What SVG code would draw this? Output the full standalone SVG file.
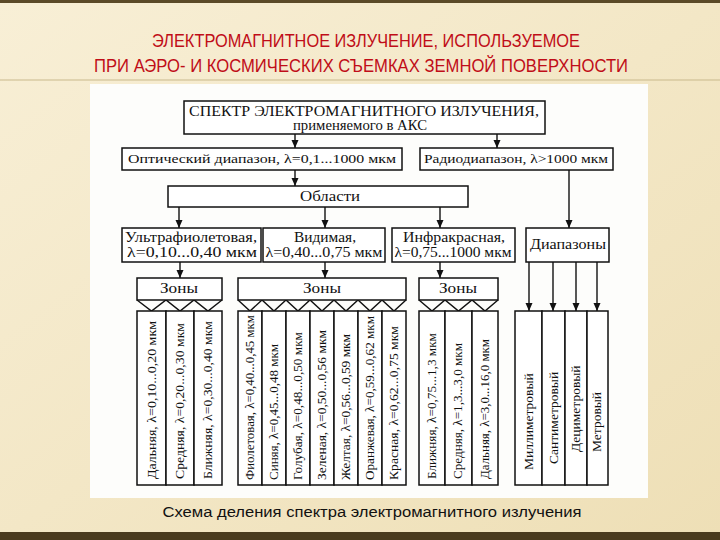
<svg xmlns="http://www.w3.org/2000/svg" width="720" height="540" viewBox="0 0 720 540">
<defs>
<linearGradient id="bg" x1="0" y1="0" x2="1" y2="1">
<stop offset="0" stop-color="#f8efd6"/>
<stop offset="1" stop-color="#eedfb6"/>
</linearGradient>
<marker id="ah" markerWidth="8" markerHeight="8" refX="8" refY="3.5" orient="auto" markerUnits="userSpaceOnUse">
<path d="M0,0 L8,3.5 L0,7 z" fill="#111"/>
</marker>
<style>
.box{fill:#fff;stroke:#111;stroke-width:1.5}
.t{font-family:"Liberation Serif","Times New Roman",serif;fill:#111;text-anchor:middle}
.c{font-family:"Liberation Serif","Times New Roman",serif;fill:#111;text-anchor:start}
.ln{stroke:#111;stroke-width:1.4;fill:none}
.ar{stroke:#111;stroke-width:1.4;fill:none;marker-end:url(#ah)}
.title{font-family:"Liberation Sans Narrow","Liberation Sans",Arial,sans-serif;fill:#c00d18;text-anchor:middle;font-size:19px}
</style>
</defs>
<rect x="0" y="0" width="720" height="540" fill="url(#bg)"/>
<rect x="0" y="0" width="720" height="3" fill="#5b4a28"/>
<rect x="0" y="532" width="720" height="8" fill="#4a3b1e"/>
<line x1="0" y1="80" x2="720" y2="80" stroke="#c9b98c" stroke-width="1"/>
<text class="title" x="366" y="47" textLength="428" lengthAdjust="spacingAndGlyphs">ЭЛЕКТРОМАГНИТНОЕ ИЗЛУЧЕНИЕ, ИСПОЛЬЗУЕМОЕ</text>
<text class="title" x="361" y="72" textLength="534" lengthAdjust="spacingAndGlyphs">ПРИ АЭРО- И КОСМИЧЕСКИХ СЪЕМКАХ ЗЕМНОЙ ПОВЕРХНОСТИ</text>
<rect x="90" y="84" width="558" height="414" fill="#fdfdfb"/>

<g id="connectors">
<line class="ar" x1="295" y1="134" x2="295" y2="148"/>
<line class="ar" x1="497" y1="134" x2="497" y2="148"/>
<line class="ar" x1="295" y1="170" x2="295" y2="186"/>
<line class="ar" x1="569" y1="170" x2="569" y2="228"/>
<line class="ar" x1="179" y1="207" x2="179" y2="228"/>
<line class="ar" x1="325" y1="207" x2="325" y2="228"/>
<line class="ar" x1="440" y1="207" x2="440" y2="228"/>
<line class="ar" x1="180" y1="262" x2="180" y2="278"/>
<line class="ar" x1="325" y1="262" x2="325" y2="278"/>
<line class="ar" x1="440" y1="262" x2="440" y2="278"/>
<line class="ar" x1="529" y1="262" x2="529" y2="311"/>
<line class="ar" x1="553" y1="262" x2="553" y2="311"/>
<line class="ar" x1="576" y1="262" x2="576" y2="311"/>
<line class="ar" x1="597" y1="262" x2="597" y2="311"/>
<path class="ln" d="M137,300 L151.5,311 L166,300 L180,311 L194,300 L208,311 L222,300"/>
<path class="ln" d="M238,300 L250,311 L262,300 L274,311 L286,300 L298,311 L310,300 L322,311 L334,300 L346,311 L358,300 L370,311 L382,300 L394,311 L406,300"/>
<path class="ln" d="M419,300 L432,311 L445,300 L458.5,311 L472,300 L485,311 L498,300"/>
</g>

<g id="spectrum">
<rect class="box" x="184" y="101" width="361" height="33"/>
<text class="t" x="364" y="116" font-size="14" textLength="350" lengthAdjust="spacingAndGlyphs">СПЕКТР ЭЛЕКТРОМАГНИТНОГО ИЗЛУЧЕНИЯ,</text>
<text class="t" x="360" y="130" font-size="14" textLength="134" lengthAdjust="spacingAndGlyphs">применяемого в АКС</text>
</g>
<g id="optical">
<rect class="box" x="122" y="148" width="280" height="22"/>
<text class="t" x="262" y="163" font-size="13.5" textLength="268" lengthAdjust="spacingAndGlyphs">Оптический диапазон, λ=0,1...1000 мкм</text>
</g>
<g id="radio">
<rect class="box" x="420" y="148" width="193" height="22"/>
<text class="t" x="516" y="163" font-size="13.5" textLength="184" lengthAdjust="spacingAndGlyphs">Радиодиапазон, λ&gt;1000 мкм</text>
</g>
<g id="oblasti">
<rect class="box" x="168" y="186" width="300" height="21"/>
<text class="t" x="330" y="201" font-size="15" textLength="60" lengthAdjust="spacingAndGlyphs">Области</text>
</g>
<g id="uv">
<rect class="box" x="122" y="228" width="139" height="34"/>
<text class="t" x="191" y="242" font-size="14.5" textLength="132" lengthAdjust="spacingAndGlyphs">Ультрафиолетовая,</text>
<text class="t" x="192" y="257" font-size="14.5" textLength="130" lengthAdjust="spacingAndGlyphs">λ=0,10...0,40 мкм</text>
</g>
<g id="visible">
<rect class="box" x="263" y="228" width="122" height="34"/>
<text class="t" x="325" y="242" font-size="14.5" textLength="62" lengthAdjust="spacingAndGlyphs">Видимая,</text>
<text class="t" x="324" y="257" font-size="14.5" textLength="117" lengthAdjust="spacingAndGlyphs">λ=0,40...0,75 мкм</text>
</g>
<g id="ir">
<rect class="box" x="392" y="228" width="123" height="34"/>
<text class="t" x="454" y="242" font-size="14.5" textLength="102" lengthAdjust="spacingAndGlyphs">Инфракрасная,</text>
<text class="t" x="453" y="257" font-size="14.5" textLength="117" lengthAdjust="spacingAndGlyphs">λ=0,75...1000 мкм</text>
</g>
<g id="diapazony">
<rect class="box" x="526" y="228" width="83" height="34"/>
<text class="t" x="568" y="249" font-size="14.5" textLength="76" lengthAdjust="spacingAndGlyphs">Диапазоны</text>
</g>
<g id="zones-uv">
<rect class="box" x="137" y="278" width="85" height="22"/>
<text class="t" x="179" y="293" font-size="14.5" textLength="38" lengthAdjust="spacingAndGlyphs">Зоны</text>
</g>
<g id="zones-vis">
<rect class="box" x="238" y="278" width="168" height="22"/>
<text class="t" x="322" y="293" font-size="14.5" textLength="38" lengthAdjust="spacingAndGlyphs">Зоны</text>
</g>
<g id="zones-ir">
<rect class="box" x="419" y="278" width="79" height="22"/>
<text class="t" x="458" y="293" font-size="14.5" textLength="38" lengthAdjust="spacingAndGlyphs">Зоны</text>
</g>

<g id="cols-uv">
<rect class="box" x="137" y="311" width="29" height="174"/>
<rect class="box" x="166" y="311" width="28" height="174"/>
<rect class="box" x="194" y="311" width="28" height="174"/>
<text class="c" font-size="13" textLength="158" lengthAdjust="spacingAndGlyphs" transform="translate(156,479) rotate(-90)">Дальняя, λ=0,10...0,20 мкм</text>
<text class="c" font-size="13" textLength="156" lengthAdjust="spacingAndGlyphs" transform="translate(184,479) rotate(-90)">Средняя, λ=0,20...0,30 мкм</text>
<text class="c" font-size="13" textLength="158" lengthAdjust="spacingAndGlyphs" transform="translate(212,479) rotate(-90)">Ближняя, λ=0,30...0,40 мкм</text>
</g>
<g id="cols-vis">
<rect class="box" x="238" y="311" width="24" height="174"/>
<rect class="box" x="262" y="311" width="24" height="174"/>
<rect class="box" x="286" y="311" width="24" height="174"/>
<rect class="box" x="310" y="311" width="24" height="174"/>
<rect class="box" x="334" y="311" width="24" height="174"/>
<rect class="box" x="358" y="311" width="24" height="174"/>
<rect class="box" x="382" y="311" width="24" height="174"/>
<text class="c" font-size="12" textLength="165" lengthAdjust="spacingAndGlyphs" transform="translate(254,480) rotate(-90)">Фиолетовая, λ=0,40...0,45 мкм</text>
<text class="c" font-size="12" textLength="136" lengthAdjust="spacingAndGlyphs" transform="translate(278,480) rotate(-90)">Синяя, λ=0,45...0,48 мкм</text>
<text class="c" font-size="12" textLength="148" lengthAdjust="spacingAndGlyphs" transform="translate(302,480) rotate(-90)">Голубая, λ=0,48...0,50 мкм</text>
<text class="c" font-size="12" textLength="150" lengthAdjust="spacingAndGlyphs" transform="translate(326,480) rotate(-90)">Зеленая, λ=0,50...0,56 мкм</text>
<text class="c" font-size="12" textLength="146" lengthAdjust="spacingAndGlyphs" transform="translate(350,480) rotate(-90)">Желтая, λ=0,56...0,59 мкм</text>
<text class="c" font-size="12" textLength="164" lengthAdjust="spacingAndGlyphs" transform="translate(374,480) rotate(-90)">Оранжевая, λ=0,59...0,62 мкм</text>
<text class="c" font-size="12" textLength="154" lengthAdjust="spacingAndGlyphs" transform="translate(398,480) rotate(-90)">Красная, λ=0,62...0,75 мкм</text>
</g>
<g id="cols-ir">
<rect class="box" x="419" y="311" width="26" height="174"/>
<rect class="box" x="445" y="311" width="27" height="174"/>
<rect class="box" x="472" y="311" width="26" height="174"/>
<text class="c" font-size="12.5" textLength="146" lengthAdjust="spacingAndGlyphs" transform="translate(436,479) rotate(-90)">Ближняя, λ=0,75...1,3 мкм</text>
<text class="c" font-size="12.5" textLength="136" lengthAdjust="spacingAndGlyphs" transform="translate(462,479) rotate(-90)">Средняя, λ=1,3...3,0 мкм</text>
<text class="c" font-size="12.5" textLength="140" lengthAdjust="spacingAndGlyphs" transform="translate(489,479) rotate(-90)">Дальняя, λ=3,0...16,0 мкм</text>
</g>
<g id="cols-radio">
<rect class="box" x="515" y="311" width="27" height="174"/>
<rect class="box" x="542" y="311" width="23" height="174"/>
<rect class="box" x="565" y="311" width="22" height="174"/>
<rect class="box" x="587" y="311" width="21" height="174"/>
<text class="c" font-size="13.5" transform="translate(533,470) rotate(-90)">Миллиметровый</text>
<text class="c" font-size="13.5" transform="translate(558,464) rotate(-90)">Сантиметровый</text>
<text class="c" font-size="13.5" transform="translate(580,452) rotate(-90)">Дециметровый</text>
<text class="c" font-size="13.5" transform="translate(601,452) rotate(-90)">Метровый</text>
</g>

<text x="372" y="517" font-family="'Liberation Sans',Arial,sans-serif" font-size="15.5" fill="#111" text-anchor="middle" textLength="419" lengthAdjust="spacingAndGlyphs">Схема деления спектра электромагнитного излучения</text>
</svg>
